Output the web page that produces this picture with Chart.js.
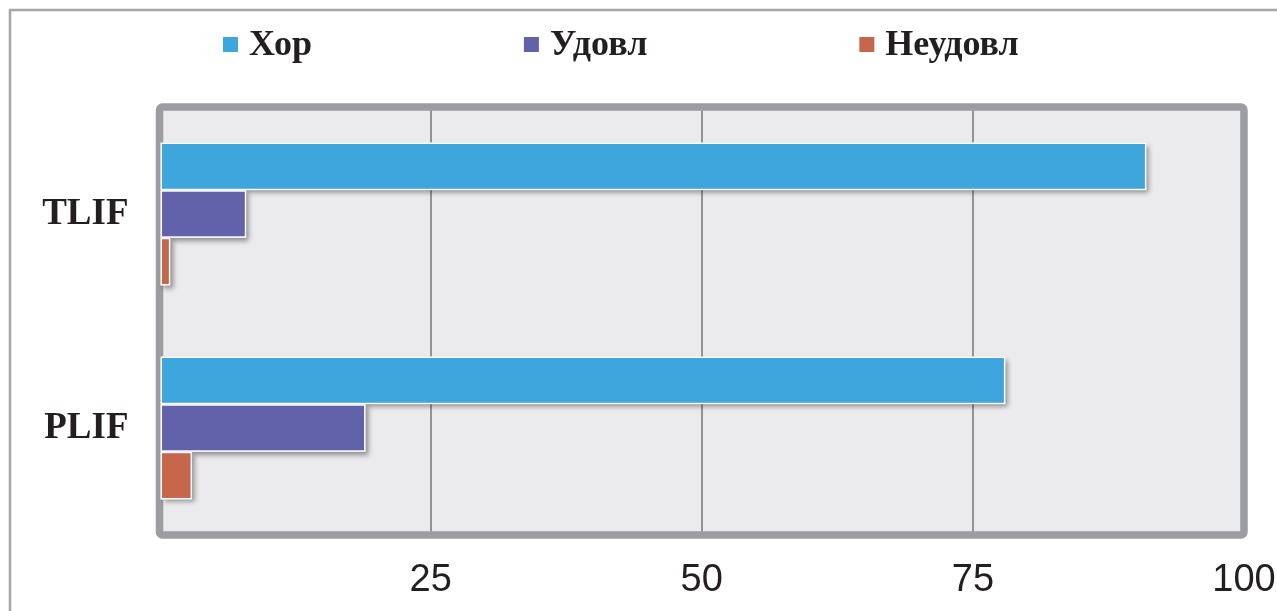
<!DOCTYPE html>
<html>
<head>
<meta charset="utf-8">
<script src="https://cdn.jsdelivr.net/npm/chart.js@4/dist/chart.umd.min.js"></script>
<style>
  html, body { margin: 0; padding: 0; background: #ffffff; overflow: hidden; }
  #wrap { position: relative; width: 1277px; height: 611px; }
</style>
</head>
<body>
<div id="wrap"><canvas id="chart" width="1277" height="611"></canvas></div>
<script>
// Outcome grades per surgical technique (%)
const categories = ['TLIF', 'PLIF'];
const seriesNames = ['Хор', 'Удовл', 'Неудовл'];
const khor = [91, 78];
const udovl = [8, 19];
const neudovl = [1, 3];
const xTicks = [25, 50, 75, 100];

const colors = ['#3ea6dd', '#6262aa', '#c6664a'];
const textColor = '#231f20';

// Light panel behind the plot and the thin page frame
const backdrop = {
  id: 'backdrop',
  beforeDraw(chart) {
    const { ctx, chartArea: a } = chart;
    ctx.save();
    ctx.fillStyle = '#ebebee';
    ctx.fillRect(a.left, a.top, a.right - a.left, a.bottom - a.top);
    ctx.strokeStyle = '#a5a5a5';
    ctx.lineWidth = 2.5;
    ctx.beginPath();
    ctx.moveTo(10, chart.height);
    ctx.lineTo(10, 10);
    ctx.lineTo(chart.width, 10);
    ctx.stroke();
    ctx.restore();
  }
};

// Thick rounded frame around the plot plus soft bar shadows
const frameAndShadows = {
  id: 'frameAndShadows',
  beforeDatasetsDraw(chart) {
    const { ctx, chartArea: a } = chart;
    ctx.save();
    ctx.strokeStyle = '#9c9da1';
    ctx.lineWidth = 7.5;
    ctx.beginPath();
    ctx.roundRect(a.left, a.top, a.right - a.left, a.bottom - a.top, 3);
    ctx.stroke();

    ctx.shadowColor = 'rgba(0,0,0,0.4)';
    ctx.shadowBlur = 5;
    ctx.shadowOffsetX = 3;
    ctx.shadowOffsetY = 3;
    ctx.fillStyle = '#ebebee';
    chart.data.datasets.forEach((ds, i) => {
      chart.getDatasetMeta(i).data.forEach(bar => {
        const h = bar.height;
        ctx.fillRect(bar.base, bar.y - h / 2, bar.x - bar.base, h);
      });
    });
    ctx.restore();
  }
};

// Legend row across the top
const topLegend = {
  id: 'topLegend',
  afterDraw(chart) {
    const { ctx } = chart;
    const box = 15, gapText = 11, gapItems = 212;
    let x = 223;
    const yMid = 44.5;
    ctx.save();
    ctx.font = 'bold 36px "Liberation Serif", "Times New Roman", serif';
    ctx.textBaseline = 'middle';
    ctx.textAlign = 'left';
    chart.data.datasets.forEach(ds => {
      ctx.fillStyle = ds.backgroundColor;
      ctx.fillRect(x, yMid - box / 2, box, box);
      ctx.fillStyle = textColor;
      const tx = x + box + gapText;
      ctx.fillText(ds.label, tx, yMid + 1);
      x = tx + ctx.measureText(ds.label).width + gapItems;
    });
    ctx.restore();
  }
};

const series = [khor, udovl, neudovl];

new Chart(document.getElementById('chart'), {
  type: 'bar',
  data: {
    labels: categories,
    datasets: series.map((values, i) => ({
      label: seriesNames[i],
      data: values,
      backgroundColor: colors[i],
      borderColor: '#ffffff',
      borderWidth: 1.5,
      borderSkipped: false,
      categoryPercentage: 0.668,
      barPercentage: 1.0
    }))
  },
  options: {
    indexAxis: 'y',
    responsive: false,
    animation: false,
    devicePixelRatio: 1,
    layout: { padding: { top: 107, right: 33, left: 0, bottom: 0 } },
    plugins: {
      legend: { display: false },
      tooltip: { enabled: false }
    },
    scales: {
      x: {
        type: 'linear',
        min: 0,
        max: 100,
        afterBuildTicks(scale) {
          scale.ticks = [0].concat(xTicks).map(v => ({ value: v }));
        },
        afterFit(scale) {
          scale.height = 76;
          scale.paddingLeft = 0;
          scale.paddingRight = 0;
        },
        ticks: {
          padding: 23,
          color: textColor,
          font: { family: '"Liberation Sans", Arial, sans-serif', size: 38 },
          callback: v => (xTicks.includes(v) ? String(v) : '')
        },
        grid: {
          drawTicks: false,
          lineWidth: 2,
          color: c => (c.tick && c.tick.value > 0 && c.tick.value < 100) ? '#939498' : 'rgba(0,0,0,0)'
        },
        border: { display: false }
      },
      y: {
        afterFit(scale) {
          scale.width = 159.5;
        },
        ticks: {
          padding: 31,
          color: textColor,
          font: { family: '"Liberation Serif", "Times New Roman", serif', size: 37, weight: 'bold' }
        },
        grid: { display: false, drawTicks: false },
        border: { display: false }
      }
    }
  },
  plugins: [backdrop, frameAndShadows, topLegend]
});
</script>
</body>
</html>
